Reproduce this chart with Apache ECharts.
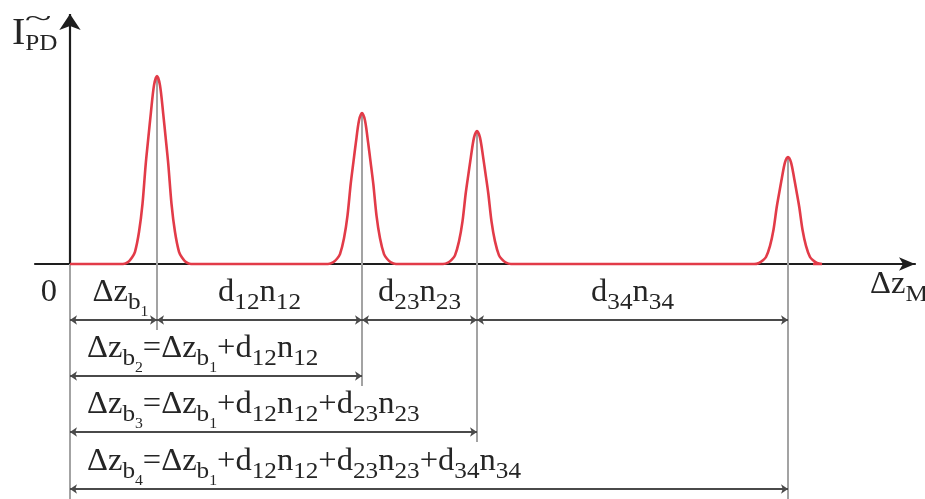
<!DOCTYPE html>
<html><head><meta charset="utf-8">
<script src="https://cdn.jsdelivr.net/npm/echarts@6/dist/echarts.min.js"></script>
<style>html,body{margin:0;padding:0;background:#fff}#c{width:925px;height:499px}</style>
</head><body><div id="c"></div>
<script>
// ---- data (arbitrary units along Δz_M and I_PD) ----
const peakPositions = [87, 292, 407, 718];
const peakHeights = [188, 151, 133, 107];
const profileOffsets = [-34, -29, -25, -22, -18, -14.5, -11.3, -8.5, -6.2, -3, 0, 3, 6.2, 8.5, 11.3, 14.5, 18, 22, 25, 29, 34];
const profileFractions = [0, 0.01, 0.035, 0.065, 0.17, 0.32, 0.53, 0.68, 0.8, 0.95, 1, 0.95, 0.8, 0.68, 0.53, 0.32, 0.17, 0.065, 0.035, 0.01, 0];
const curveRange = [0, 743];
const segmentLabels = ['Δz{b|b}{c|1}', 'd{s|12}n{s|12}', 'd{s|23}n{s|23}', 'd{s|34}n{s|34}'];
const sumLabels = [
  'Δz{b|b}{c|2}=Δz{b|b}{c|1}+d{s|12}n{s|12}',
  'Δz{b|b}{c|3}=Δz{b|b}{c|1}+d{s|12}n{s|12}+d{s|23}n{s|23}',
  'Δz{b|b}{c|4}=Δz{b|b}{c|1}+d{s|12}n{s|12}+d{s|23}n{s|23}+d{s|34}n{s|34}'
];
const xAxisName = 'Δz{s|M}';
const yAxisName = '{big|I}{s|PD}';
const originName = '0';

// ---- layout ----
const X_MIN = -35, X_MAX = 845, Y_MIN = -235, Y_MAX = 264;
const rowLevels = [-56, -112, -168, -225];
const Y_TOP = 250;
const FONT = '"Liberation Serif", "Times New Roman", serif';
const TEXT = '#252525';
const SX = 1.05;
const rich = {
  b: { fontSize: 24, fontFamily: FONT, fill: TEXT, padding: [20, 0, 0, 0], verticalAlign: 'middle' },
  s: { fontSize: 24, fontFamily: FONT, fill: TEXT, padding: [19, 0, 0, 0], verticalAlign: 'middle' },
  c: { fontSize: 15, fontFamily: FONT, fill: TEXT, padding: [38, 0, 0, 0], verticalAlign: 'middle' },
  big: { fontSize: 38, fontFamily: FONT, fill: TEXT, verticalAlign: 'middle' }
};

// curve points built from the read peak profile
const curve = [[curveRange[0], 0]];
peakPositions.forEach((p, i) => {
  profileOffsets.forEach((o, k) => curve.push([p + o, peakHeights[i] * profileFractions[k]]));
});
curve.push([curveRange[1], 0]);

const bounds = [0].concat(peakPositions);
const extLines = [{ coords: [[0, 0], [0, Y_MIN]] }];
peakPositions.forEach((p, i) => {
  extLines.push({ coords: [[p, peakHeights[i]], [p, i === 3 ? Y_MIN : rowLevels[i] - 10]] });
});
const dimLines = [];
for (let i = 0; i < 4; i++) dimLines.push({ coords: [[bounds[i], rowLevels[0]], [bounds[i + 1], rowLevels[0]]] });
for (let i = 1; i < 4; i++) dimLines.push({ coords: [[0, rowLevels[i]], [peakPositions[i], rowLevels[i]]] });

const chart = echarts.init(document.getElementById('c'), null, { renderer: 'canvas' });
chart.setOption({
  animation: false,
  grid: { left: 35, right: 10, top: 0, bottom: 0 },
  xAxis: {
    type: 'value', min: X_MIN, max: X_MAX,
    axisLine: { onZero: true, symbol: ['none', 'arrow'], symbolSize: [10, 16], lineStyle: { color: '#1e1e1e', width: 2.2 } },
    axisTick: { show: false }, axisLabel: { show: false }, splitLine: { show: false }
  },
  yAxis: {
    type: 'value', min: Y_MIN, max: Y_MAX,
    axisLine: { show: false }, axisTick: { show: false }, axisLabel: { show: false }, splitLine: { show: false }
  },
  series: [
    {
      type: 'lines', coordinateSystem: 'cartesian2d', z: 1, silent: true,
      lineStyle: { color: '#a3a3a3', width: 2, opacity: 1 },
      data: extLines
    },
    {
      type: 'lines', coordinateSystem: 'cartesian2d', z: 2, silent: true,
      symbol: ['arrow', 'arrow'], symbolSize: 7,
      lineStyle: { color: '#4a4a4a', width: 2, opacity: 1 },
      data: dimLines
    },
    {
      type: 'lines', coordinateSystem: 'cartesian2d', z: 3, silent: true,
      symbol: ['none', 'arrow'], symbolSize: [10, 16],
      lineStyle: { color: '#1e1e1e', width: 2.2, opacity: 1 },
      data: [{ coords: [[0, 0], [0, Y_TOP]] }]
    },
    {
      type: 'line', z: 4, silent: true, showSymbol: false, symbol: 'none',
      smooth: 0.3,
      lineStyle: { color: '#e23b48', width: 2.6 },
      data: curve
    }
  ]
});

function px(pt) { return chart.convertToPixel({ gridIndex: 0 }, pt); }
function txt(text, x, y, align, size, sx) {
  return {
    type: 'text', x: x, y: y, scaleX: sx || SX, z: 10, silent: true,
    style: {
      text: text, rich: rich, fontSize: size || 31, fontFamily: FONT, fill: TEXT,
      align: align, textAlign: align, verticalAlign: 'middle', textVerticalAlign: 'middle'
    }
  };
}
const g = [];
const BASE_OFF = 10;
for (let i = 0; i < 4; i++) {
  const a = px([bounds[i], rowLevels[0]]), b = px([bounds[i + 1], rowLevels[0]]);
  g.push(txt(segmentLabels[i], (a[0] + b[0]) / 2 + (i === 0 ? 7 : 0), a[1] - 17 - BASE_OFF, 'center'));
}
sumLabels.forEach((t, i) => {
  const a = px([0, rowLevels[i + 1]]);
  g.push(txt(t, a[0] + 17, a[1] - 17 - BASE_OFF, 'left'));
});
const o = px([0, 0]);
g.push(txt(originName, o[0] - 21, o[1] + 39 - BASE_OFF, 'center'));
g.push(txt(xAxisName, o[0] + 800, o[1] + 31 - BASE_OFF, 'left'));
g.push(txt(yAxisName, o[0] - 58, o[1] - 217 - 13, 'left'));
g.push(txt('~', o[0] - 32, o[1] - 245, 'center', 26, 1.9));
chart.setOption({ graphic: g });
</script></body></html>
